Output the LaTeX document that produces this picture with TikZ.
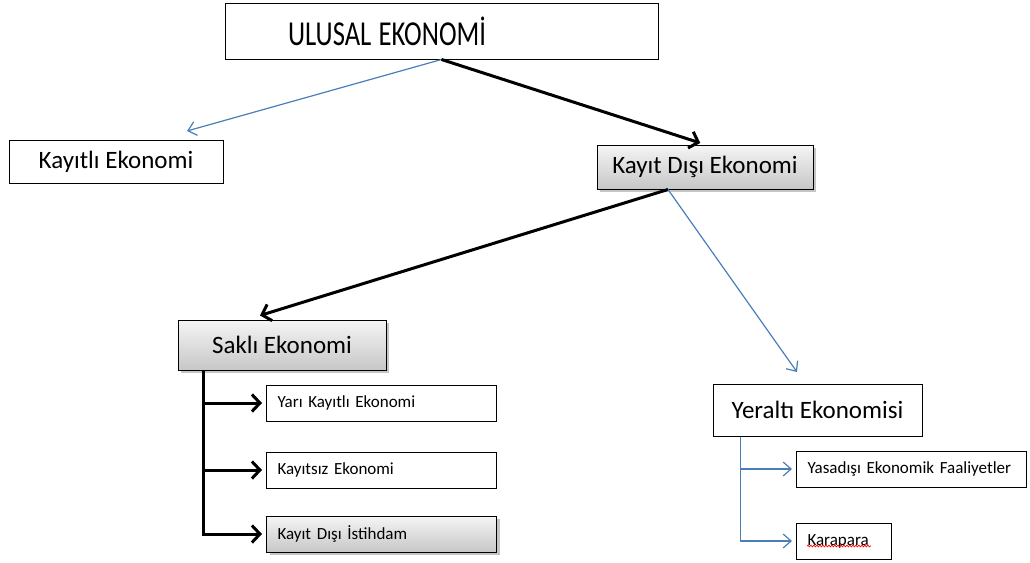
\documentclass[tikz,border=0pt]{standalone}
\usepackage{fontspec}
\usepackage{graphicx}
\setmainfont{Carlito}
\usetikzlibrary{arrows.meta,shadows,calc,decorations.pathmorphing}
\definecolor{lineblue}{HTML}{4A7EBB}
\tikzset{
  box/.style={draw, line width=1pt, inner sep=0pt, font=\fontsize{25}{30}\selectfont},
  shadedbox/.style={top color=white!96!black, bottom color=black!22,
    drop shadow={shadow xshift=3pt, shadow yshift=-3pt, fill=black!45}},
  smallbox/.style={draw, line width=1pt, anchor=west, minimum height=36pt, inner xsep=11pt,
    inner ysep=0pt, align=left, font=\fontsize{17}{21}\selectfont},
  thickarr/.style={line width=3pt, -{Straight Barb[length=8pt,width=17pt]}},
  thinarr/.style={lineblue, line width=1.2pt, -{Straight Barb[length=8pt,width=14pt]}}
}

\begin{document}
\begin{tikzpicture}[x=1pt,y=-1pt]
      \useasboundingbox (0,0) rectangle (1030,562);
      \node[box, minimum width=433pt, minimum height=56pt, text width=413pt, inner xsep=10pt, align=left,
        font=\fontsize{35}{40}\selectfont] (ulusal) at (441.5,31) {\hspace*{53pt}\scalebox{0.76}[1]{ULUSAL\hspace{-2pt} EKONOMİ}};
      \node[box, minimum width=214pt, minimum height=43pt] (kayitli) at (116,162) {Kayıtlı Ekonomi};
      \node[box, shadedbox, minimum width=216pt, minimum height=44pt] (kayitdisi) at (705,167) {Kayıt Dışı Ekonomi};
      \node[box, shadedbox, minimum width=208pt, minimum height=50pt] (sakli) at (282,345) {Saklı Ekonomi};
      \node[box, minimum width=209pt, minimum height=52pt] (yeralti) at (817.5,410) {Yeraltı Ekonomisi};
      \node[smallbox, text width=208pt] (yari) at (266,403) {Yarı Kayıtlı Ekonomi};
      \node[smallbox, text width=208pt] (kayitsiz) at (266,470) {Kayıtsız Ekonomi};
      \node[smallbox, shadedbox, text width=208pt] (istihdam) at (266,534) {Kayıt Dışı İstihdam};
      \node[smallbox, text width=208pt] (yasadisi) at (796,469) {Yasadışı Ekonomik Faaliyetler};
      \node[smallbox, text width=73pt] (karapara) at (796,541) {Karapara};
      \draw[red, line width=0.7pt, decorate, decoration={snake, amplitude=0.9pt, segment length=3pt}]
        ($(karapara.west)+(11,5)$) -- +(64,0);
      \coordinate (kayitliTip) at (187,131);
      \coordinate (yeraltiTip) at (797,372);
      \draw[thinarr] (ulusal.south) -- (kayitliTip);
      \draw[thickarr, shorten >=5pt] (ulusal.south) -- (kayitdisi.north);
      \draw[thickarr] ($(kayitdisi.south)+(-37,0)$) -- ($(sakli.north)+(-22,-4)$);
      \draw[thinarr] ($(kayitdisi.south)+(-37,0)$) -- (yeraltiTip);
      \draw[thickarr, shorten >=4pt] ($(sakli.south west)+(26,0)$) |- (yari.west);
      \draw[thickarr, shorten >=4pt] ($(sakli.south west)+(26,0)$) |- (kayitsiz.west);
      \draw[thickarr, shorten >=4pt] ($(sakli.south west)+(26,0)$) |- (istihdam.west);
      \draw[thinarr, shorten >=4pt] ($(yeralti.south west)+(28,0)$) |- (yasadisi.west);
      \draw[thinarr, shorten >=4pt] ($(yeralti.south west)+(28,0)$) |- (karapara.west);
      % \draw[help lines] (0,0) grid[step=50] (1030,562);
\end{tikzpicture}
\end{document}
